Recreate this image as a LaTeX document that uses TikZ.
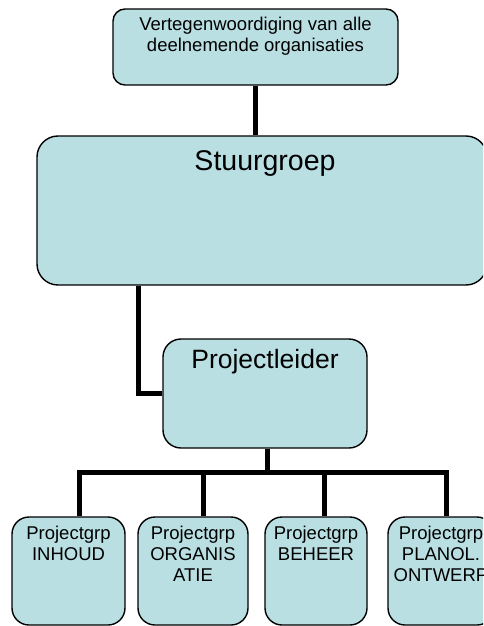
\documentclass[tikz,border=0pt]{standalone}
\usepackage{fontspec}
\setmainfont{Liberation Sans}
\usetikzlibrary{positioning}
\definecolor{boxfill}{RGB}{185,223,226}
\tikzset{
  orgbox/.style={rectangle,rounded corners=#1,draw=black,line width=1.4pt,fill=boxfill,inner sep=0pt},
  orgbox/.default=17pt,
  smalltxt/.style={font=\fontsize{18.5}{21}\selectfont,align=center,inner sep=0pt},
  headtxt/.style={font=\fontsize{#1}{#1}\selectfont,inner sep=0pt},
  link/.style={line width=5pt}
}

\begin{document}
\begin{tikzpicture}[x=1pt,y=-1pt]
    \useasboundingbox (0,0) rectangle (483,626);
    \clip (0,0) rectangle (483,626);

    \node[orgbox=12pt,minimum width=285pt,minimum height=76pt] (vert) at (255.5,47) {};
    \node[orgbox=21pt,minimum width=450pt,minimum height=149pt] (sg) at (262,210.5) {};
    \node[orgbox=18pt,minimum width=204pt,minimum height=109pt] (pl) at (265,393.5) {};
    \node[orgbox,minimum width=113pt,minimum height=108pt] (g1) at (68.5,571) {};
    \node[orgbox,minimum width=110pt,minimum height=108pt] (g2) at (193,571) {};
    \node[orgbox,minimum width=102pt,minimum height=108pt] (g3) at (316,571) {};
    \node[orgbox,minimum width=106pt,minimum height=108pt] (g4) at (441,571) {};

    \node[smalltxt,below=9pt of vert.north] (verttxt) {Vertegenwoordiging van alle\\deelnemende organisaties};
    \node[headtxt=28.5,below=15.5pt of sg.north,xshift=3pt] (sgtxt) {Stuurgroep};
    \node[headtxt=26.5,below=11pt of pl.north] (pltxt) {Projectleider};
    \node[smalltxt,below=10pt of g1.north] (g1txt) {Projectgrp\\INHOUD};
    \node[smalltxt,below=10pt of g2.north] (g2txt) {Projectgrp\\ORGANIS\\ATIE};
    \node[smalltxt,below=10pt of g3.north] (g3txt) {Projectgrp\\BEHEER};
    \node[smalltxt,below=10pt of g4.north] (g4txt) {Projectgrp\\PLANOL.\\ONTWERP};

    % connectors
    \draw[link] (vert.south) -- (vert.south |- sg.north);
    \draw[link] ([xshift=-124pt]sg.south) |- (pl.west);
    \coordinate (bus) at ([xshift=2pt,yshift=-24pt]pl.south);
    \draw[link] ([xshift=2pt]pl.south) -- (bus);
    \foreach \g/\s in {g1/10.5,g2/10,g3/8,g4/5}
      \draw[link] (bus) -| ([xshift=\s pt]\g.north);
  \end{tikzpicture}
\end{document}
